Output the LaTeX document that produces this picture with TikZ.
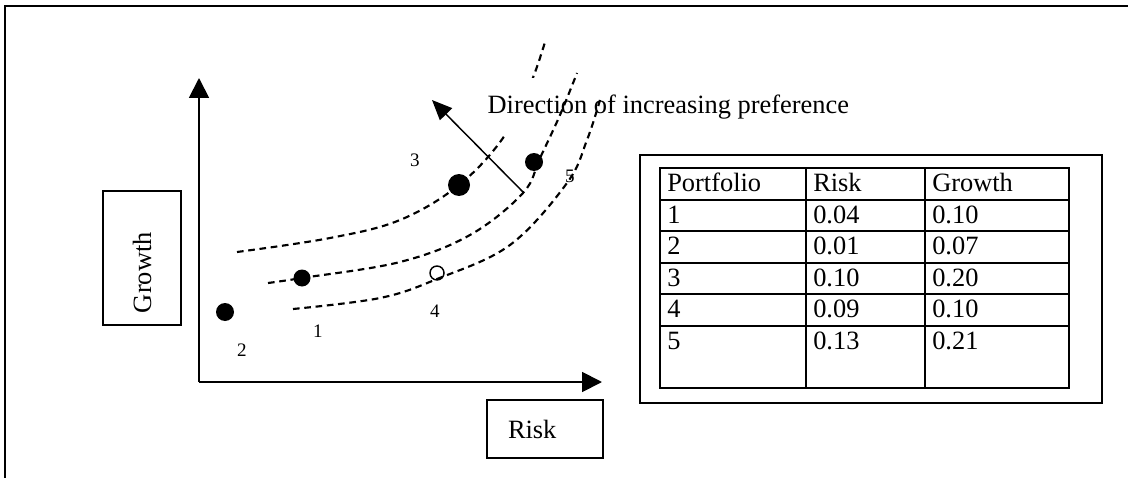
\documentclass[tikz,border=0pt]{standalone}
\usepackage{fontspec}
\setmainfont{Liberation Serif}
\usetikzlibrary{arrows.meta}

\begin{document}
\begin{tikzpicture}[x=0.75pt, y=-0.75pt, >={Triangle[length=15pt,width=15pt]}]
      \tikzstyle{frame} = [draw=black, line width=1.1pt]
      \tikzstyle{axis} = [draw=black, line width=1.4pt, ->]
      \tikzstyle{curve} = [draw=black, line width=1.6pt, dash pattern=on 5pt off 3.5pt, smooth, tension=0.6]
      \tikzstyle{dot} = [circle, fill=black, inner sep=0pt]
      \tikzstyle{open dot} = [circle, draw=black, line width=1.1pt, inner sep=0pt, minimum size=10.5pt]
      \tikzstyle{label box} = [draw=black, line width=1.1pt, align=left, font=\fontsize{19.8}{24}\selectfont]
      \tikzstyle{num} = [inner sep=0pt, font=\fontsize{14.3}{17}\selectfont]
      \tikzstyle{cell} = [anchor=base west, inner sep=0pt, font=\fontsize{19.8}{24}\selectfont]

      \useasboundingbox (0,0) rectangle (1128,478);
      \draw[frame] (5,478) -- (5,6) -- (1128,6);

      %axes
      \coordinate (origin) at (199,382);
      \coordinate (ytop) at (199,78);
      \coordinate (xend) at (602,382);
      \draw[axis] (origin) -- (ytop);
      \draw[axis] (origin) -- (xend);
      \node[label box, rotate=90, minimum width=100.5pt, minimum height=58.5pt, text width=82.5pt, inner xsep=9pt] (growth) at (142,258) {Growth};
      \node[label box, minimum width=87pt, minimum height=43.5pt, text width=55.5pt, inner xsep=15.75pt] (risk) at (545,429) {Risk};

      %curves
      \draw[curve] plot coordinates {(237,252) (330,238) (400,220) (459,185) (503,138) (530,85) (545,42)};
      \node[fill=white, anchor=west, inner xsep=4pt, minimum height=43.5pt, font=\fontsize{19.8}{24}\selectfont] (pref) at (482,107) {Direction of increasing preference};
      \draw[curve] plot coordinates {(268,283) (302,278) (400,262) (470,235) (523,193) (540,158) (560,115) (577,73)};
      \draw[curve] plot coordinates {(293,309) (380,298) (437,279) (510,245) (567,183) (587,140) (600,100)};

      %portfolios
      \node[dot, minimum size=12.75pt] (p1) at (302,278) {};
      \node[dot, minimum size=13.5pt] (p2) at (225,312) {};
      \node[dot, minimum size=16.5pt] (p3) at (459,185) {};
      \node[open dot] (p4) at (437,273) {};
      \node[dot, minimum size=13.5pt] (p5) at (534,162) {};
      \node[num] (n1) at (318,331) {1};
      \node[num] (n2) at (242,350) {2};
      \node[num] (n3) at (415,160) {3};
      \node[num] (n4) at (435,311) {4};
      \node[num] (n5) at (570,176) {5};

      %preference arrow
      \coordinate (pref tail) at (523,192);
      \coordinate (pref tip) at (432,100);
      \draw[->, line width=1.1pt, >={Triangle[length=15pt,width=12.75pt]}] (pref tail) -- (pref tip);

      %table
      \draw[frame] (640,155) rectangle (1102,403);
      \draw[frame] (660,168) rectangle (1069,388);
      \foreach \y in {200,231,263,294,326} \draw[frame] (660,\y) -- (1069,\y);
      \foreach \x in {806,925} \draw[frame] (\x,168) -- (\x,388);
      \node[cell] (head port) at (667,191) {Portfolio};
      \node[cell] (head risk) at (813,191) {Risk};
      \node[cell] (head growth) at (932,191) {Growth};
      \foreach \p/\r/\g [count=\i from 0] in {1/0.04/0.10, 2/0.01/0.07, 3/0.10/0.20, 4/0.09/0.10, 5/0.13/0.21} {
         \pgfmathsetmacro{\yb}{223+31.5*\i}
         \node[cell] (port\p) at (667,\yb) {\p};
         \node[cell] (risk\p) at (813,\yb) {\r};
         \node[cell] (growth\p) at (932,\yb) {\g};
      }
\end{tikzpicture}
\end{document}
